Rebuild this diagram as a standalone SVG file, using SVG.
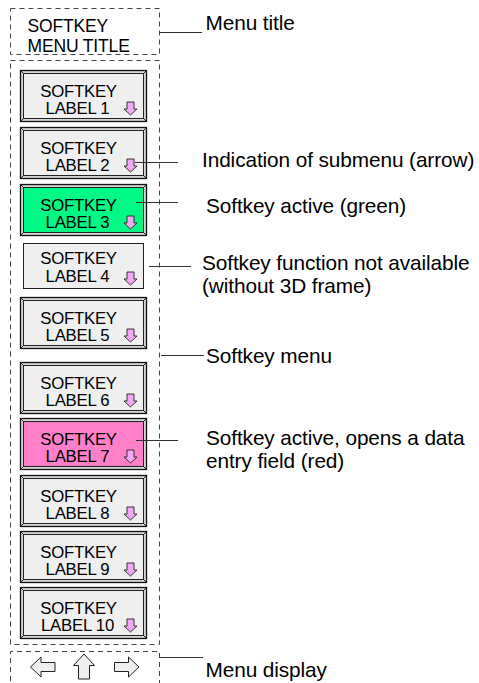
<svg xmlns="http://www.w3.org/2000/svg" width="479" height="683" viewBox="0 0 479 683">
<style>
.dash{fill:none;stroke:#444;stroke-width:1;stroke-dasharray:5,4}
.outer{fill:#d6d6d6;stroke:#111;stroke-width:1.3}
.face{fill:#efefef;stroke:#222;stroke-width:1}
.bev{stroke:#222;stroke-width:1}
.green{fill:#00f884}
.pink{fill:#ff80c8}
.flat{fill:#efefef;stroke:#222;stroke-width:1}
.bt{font-family:"Liberation Sans",Arial,sans-serif;font-size:16.8px;letter-spacing:-0.25px;fill:#000;text-anchor:middle}
.tt{font-family:"Liberation Sans",Arial,sans-serif;font-size:17.5px;letter-spacing:-0.15px;fill:#000}
.lb{font-family:"Liberation Sans",Arial,sans-serif;font-size:20.8px;letter-spacing:-0.1px;fill:#000}
.con{stroke:#333;stroke-width:1;fill:none}
.sub{fill:#f4a8f4;stroke:#222;stroke-width:0.9}
.nav{fill:#efefef;stroke:#222;stroke-width:1}
</style>
<defs>
<path id="subarrow" class="sub" d="M-3.5,0 H3.5 V7 H6.5 L0,13 L-6.5,7 H-3.5 Z"/>
<g id="frame">
<rect class="outer" x="0.5" y="0.5" width="126" height="51"/>
<line class="bev" x1="0.5" y1="0.5" x2="3.5" y2="3.5"/>
<line class="bev" x1="126.5" y1="0.5" x2="123.5" y2="3.5"/>
<line class="bev" x1="0.5" y1="51.5" x2="3.5" y2="48.5"/>
<line class="bev" x1="126.5" y1="51.5" x2="123.5" y2="48.5"/>
</g>
</defs>

<g id="title-box">
<rect class="dash" x="10.5" y="8.5" width="149" height="46"/>
<text class="tt" x="27.5" y="32">SOFTKEY</text>
<text class="tt" x="27.5" y="52">MENU TITLE</text>
</g>

<g id="menu-box">
<rect class="dash" x="10.5" y="60.5" width="149" height="584"/>
</g>

<g id="softkey1" transform="translate(20,70)">
<use href="#frame"/><rect class="face" x="3.5" y="3.5" width="120" height="45"/>
<text class="bt" x="58.5" y="26.5">SOFTKEY</text><text class="bt" x="57.5" y="44">LABEL 1</text>
<use href="#subarrow" transform="translate(110.5,32)"/>
</g>
<g id="softkey2" transform="translate(20,127)">
<use href="#frame"/><rect class="face" x="3.5" y="3.5" width="120" height="45"/>
<text class="bt" x="58.5" y="26.5">SOFTKEY</text><text class="bt" x="57.5" y="44">LABEL 2</text>
<use href="#subarrow" transform="translate(110.5,32)"/>
</g>
<g id="softkey3" transform="translate(20,184)">
<use href="#frame"/><rect class="face green" x="3.5" y="3.5" width="120" height="45"/>
<text class="bt" x="58.5" y="26.5">SOFTKEY</text><text class="bt" x="57.5" y="44">LABEL 3</text>
<use href="#subarrow" transform="translate(110.5,32)"/>
</g>
<g id="softkey4" transform="translate(20,240)">
<rect class="flat" x="3.5" y="3.5" width="120" height="45"/>
<text class="bt" x="58.5" y="24">SOFTKEY</text><text class="bt" x="57.5" y="42">LABEL 4</text>
<use href="#subarrow" transform="translate(110.5,32)"/>
</g>
<g id="softkey5" transform="translate(20,297)">
<use href="#frame"/><rect class="face" x="3.5" y="3.5" width="120" height="45"/>
<text class="bt" x="58.5" y="26.5">SOFTKEY</text><text class="bt" x="57.5" y="44">LABEL 5</text>
<use href="#subarrow" transform="translate(110.5,32)"/>
</g>
<g id="softkey6" transform="translate(20,362)">
<use href="#frame"/><rect class="face" x="3.5" y="3.5" width="120" height="45"/>
<text class="bt" x="58.5" y="26.5">SOFTKEY</text><text class="bt" x="57.5" y="44">LABEL 6</text>
<use href="#subarrow" transform="translate(110.5,32)"/>
</g>
<g id="softkey7" transform="translate(20,418)">
<use href="#frame"/><rect class="face pink" x="3.5" y="3.5" width="120" height="45"/>
<text class="bt" x="58.5" y="26.5">SOFTKEY</text><text class="bt" x="57.5" y="44">LABEL 7</text>
<use href="#subarrow" transform="translate(110.5,32)"/>
</g>
<g id="softkey8" transform="translate(20,475)">
<use href="#frame"/><rect class="face" x="3.5" y="3.5" width="120" height="45"/>
<text class="bt" x="58.5" y="26.5">SOFTKEY</text><text class="bt" x="57.5" y="44">LABEL 8</text>
<use href="#subarrow" transform="translate(110.5,32)"/>
</g>
<g id="softkey9" transform="translate(20,531)">
<use href="#frame"/><rect class="face" x="3.5" y="3.5" width="120" height="45"/>
<text class="bt" x="58.5" y="26.5">SOFTKEY</text><text class="bt" x="57.5" y="44">LABEL 9</text>
<use href="#subarrow" transform="translate(110.5,32)"/>
</g>
<g id="softkey10" transform="translate(20,587)">
<use href="#frame"/><rect class="face" x="3.5" y="3.5" width="120" height="45"/>
<text class="bt" x="58.5" y="26.5">SOFTKEY</text><text class="bt" x="57.5" y="44">LABEL 10</text>
<use href="#subarrow" transform="translate(110.5,32)"/>
</g>

<g id="menu-display">
<path class="dash" d="M10.5,690 V651.5 H159.5 V690"/>
<path class="nav" d="M30.5,667 L41,657 V662.5 H55 V671.5 H41 V677 Z"/>
<path class="nav" d="M84,654 L94.5,665.5 H89.5 V679 H78.5 V665.5 H73.5 Z"/>
<path class="nav" d="M139,667 L128.5,657 V662.5 H114.5 V671.5 H128.5 V677 Z"/>
</g>

<g id="connectors">
<line class="con" x1="160" y1="32.5" x2="202" y2="32.5"/>
<line class="con" x1="135" y1="162.5" x2="178" y2="162.5"/>
<line class="con" x1="136" y1="202.5" x2="178" y2="202.5"/>
<line class="con" x1="149" y1="266.5" x2="191" y2="266.5"/>
<line class="con" x1="161" y1="355.5" x2="204" y2="355.5"/>
<line class="con" x1="136" y1="440.5" x2="178" y2="440.5"/>
<line class="con" x1="160" y1="657.5" x2="203" y2="657.5"/>
</g>

<g id="labels">
<text class="lb" x="205.5" y="30">Menu title</text>
<text class="lb" x="202" y="167">Indication of submenu (arrow)</text>
<text class="lb" x="206" y="213">Softkey active (green)</text>
<text class="lb" x="202" y="270">Softkey function not available</text>
<text class="lb" x="202" y="293">(without 3D frame)</text>
<text class="lb" x="206" y="363">Softkey menu</text>
<text class="lb" x="206" y="445">Softkey active, opens a data</text>
<text class="lb" x="206" y="468">entry field (red)</text>
<text class="lb" x="205.5" y="677">Menu display</text>
</g>
</svg>
